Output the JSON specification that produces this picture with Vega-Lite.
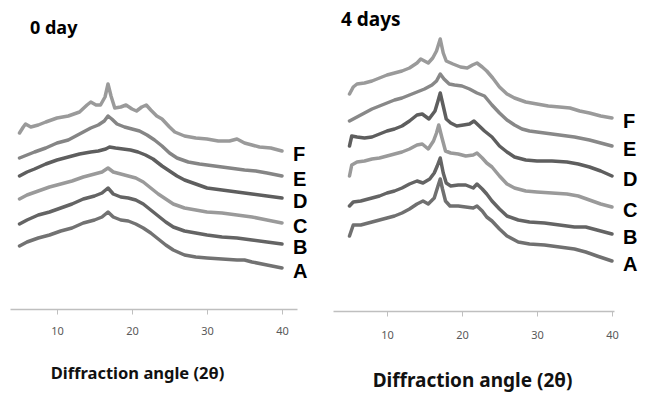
{
  "$schema": "https://vega.github.io/schema/vega-lite/v6.json",
  "padding": {"left": 10, "top": 11, "right": 0, "bottom": 12},
  "bounds": "flush",
  "spacing": 36,
  "config": {
    "view": {"stroke": null},
    "font": "Noto Sans"
  },
  "datasets": {
    "day0": [
      {"sample":"F","angle":5,"intensity":176},{"sample":"F","angle":5.5,"intensity":182},{"sample":"F","angle":5.8,"intensity":185},{"sample":"F","angle":6.5,"intensity":182},{"sample":"F","angle":7.5,"intensity":184},{"sample":"F","angle":8.5,"intensity":187},{"sample":"F","angle":10,"intensity":191},{"sample":"F","angle":11.5,"intensity":193},{"sample":"F","angle":13,"intensity":197},{"sample":"F","angle":14,"intensity":204},{"sample":"F","angle":14.5,"intensity":207},{"sample":"F","angle":15.2,"intensity":204},{"sample":"F","angle":15.8,"intensity":204},{"sample":"F","angle":16.4,"intensity":212},{"sample":"F","angle":16.8,"intensity":225},{"sample":"F","angle":17.2,"intensity":213},{"sample":"F","angle":17.7,"intensity":201},{"sample":"F","angle":18.5,"intensity":202},{"sample":"F","angle":19.2,"intensity":204},{"sample":"F","angle":20,"intensity":200},{"sample":"F","angle":20.6,"intensity":198},{"sample":"F","angle":21.3,"intensity":202},{"sample":"F","angle":21.9,"intensity":204},{"sample":"F","angle":22.5,"intensity":199},{"sample":"F","angle":23.3,"intensity":193},{"sample":"F","angle":24,"intensity":190},{"sample":"F","angle":25,"intensity":182},{"sample":"F","angle":25.7,"intensity":177},{"sample":"F","angle":27,"intensity":173},{"sample":"F","angle":28.5,"intensity":171},{"sample":"F","angle":30,"intensity":170},{"sample":"F","angle":31.5,"intensity":168},{"sample":"F","angle":33,"intensity":168},{"sample":"F","angle":34,"intensity":170},{"sample":"F","angle":35,"intensity":166},{"sample":"F","angle":36,"intensity":164},{"sample":"F","angle":37,"intensity":162},{"sample":"F","angle":38.5,"intensity":161},{"sample":"F","angle":40,"intensity":158},
      {"sample":"E","angle":5,"intensity":151},{"sample":"E","angle":6,"intensity":154},{"sample":"E","angle":7,"intensity":157},{"sample":"E","angle":8.5,"intensity":161},{"sample":"E","angle":10,"intensity":166},{"sample":"E","angle":11.5,"intensity":169},{"sample":"E","angle":13,"intensity":175},{"sample":"E","angle":14.5,"intensity":181},{"sample":"E","angle":15.5,"intensity":184},{"sample":"E","angle":16.3,"intensity":188},{"sample":"E","angle":16.8,"intensity":193},{"sample":"E","angle":17.3,"intensity":190},{"sample":"E","angle":18,"intensity":185},{"sample":"E","angle":19,"intensity":182},{"sample":"E","angle":20,"intensity":180},{"sample":"E","angle":21,"intensity":178},{"sample":"E","angle":22,"intensity":174},{"sample":"E","angle":23,"intensity":169},{"sample":"E","angle":24,"intensity":163},{"sample":"E","angle":25,"intensity":156},{"sample":"E","angle":26,"intensity":151},{"sample":"E","angle":27.5,"intensity":147},{"sample":"E","angle":29,"intensity":145},{"sample":"E","angle":31,"intensity":143},{"sample":"E","angle":33,"intensity":141},{"sample":"E","angle":35,"intensity":139},{"sample":"E","angle":36.5,"intensity":138},{"sample":"E","angle":38,"intensity":136},{"sample":"E","angle":40,"intensity":133},
      {"sample":"D","angle":5,"intensity":133},{"sample":"D","angle":6,"intensity":137},{"sample":"D","angle":7,"intensity":140},{"sample":"D","angle":8.5,"intensity":145},{"sample":"D","angle":10,"intensity":149},{"sample":"D","angle":11.5,"intensity":152},{"sample":"D","angle":13,"intensity":155},{"sample":"D","angle":14.5,"intensity":157},{"sample":"D","angle":15.5,"intensity":158},{"sample":"D","angle":16.5,"intensity":160},{"sample":"D","angle":17,"intensity":162},{"sample":"D","angle":17.8,"intensity":161},{"sample":"D","angle":18.8,"intensity":160},{"sample":"D","angle":19.8,"intensity":159},{"sample":"D","angle":20.8,"intensity":157},{"sample":"D","angle":21.8,"intensity":154},{"sample":"D","angle":22.8,"intensity":150},{"sample":"D","angle":24,"intensity":143},{"sample":"D","angle":25,"intensity":138},{"sample":"D","angle":26,"intensity":133},{"sample":"D","angle":27,"intensity":129},{"sample":"D","angle":28.5,"intensity":125},{"sample":"D","angle":30,"intensity":121},{"sample":"D","angle":32,"intensity":119},{"sample":"D","angle":34,"intensity":117},{"sample":"D","angle":36,"intensity":115},{"sample":"D","angle":38,"intensity":113},{"sample":"D","angle":40,"intensity":111},
      {"sample":"C","angle":5,"intensity":110},{"sample":"C","angle":6,"intensity":114},{"sample":"C","angle":7.5,"intensity":118},{"sample":"C","angle":9,"intensity":122},{"sample":"C","angle":10.5,"intensity":125},{"sample":"C","angle":12,"intensity":128},{"sample":"C","angle":13.5,"intensity":132},{"sample":"C","angle":15,"intensity":135},{"sample":"C","angle":16,"intensity":137},{"sample":"C","angle":16.8,"intensity":141},{"sample":"C","angle":17.5,"intensity":137},{"sample":"C","angle":18.5,"intensity":135},{"sample":"C","angle":19.5,"intensity":133},{"sample":"C","angle":20.5,"intensity":131},{"sample":"C","angle":21.5,"intensity":127},{"sample":"C","angle":22.5,"intensity":121},{"sample":"C","angle":23.5,"intensity":115},{"sample":"C","angle":24.5,"intensity":110},{"sample":"C","angle":25.5,"intensity":105},{"sample":"C","angle":27,"intensity":101},{"sample":"C","angle":28.5,"intensity":99},{"sample":"C","angle":30,"intensity":97},{"sample":"C","angle":32,"intensity":96},{"sample":"C","angle":34,"intensity":94},{"sample":"C","angle":36,"intensity":92},{"sample":"C","angle":38,"intensity":89},{"sample":"C","angle":40,"intensity":86},
      {"sample":"B","angle":5,"intensity":85},{"sample":"B","angle":6,"intensity":89},{"sample":"B","angle":7.5,"intensity":94},{"sample":"B","angle":9,"intensity":97},{"sample":"B","angle":10.5,"intensity":101},{"sample":"B","angle":12,"intensity":105},{"sample":"B","angle":13.5,"intensity":110},{"sample":"B","angle":15,"intensity":113},{"sample":"B","angle":16,"intensity":116},{"sample":"B","angle":16.8,"intensity":121},{"sample":"B","angle":17.5,"intensity":115},{"sample":"B","angle":18.5,"intensity":112},{"sample":"B","angle":19.5,"intensity":111},{"sample":"B","angle":20.5,"intensity":109},{"sample":"B","angle":21.5,"intensity":105},{"sample":"B","angle":22.5,"intensity":99},{"sample":"B","angle":23.5,"intensity":93},{"sample":"B","angle":24.5,"intensity":87},{"sample":"B","angle":25.5,"intensity":82},{"sample":"B","angle":27,"intensity":78},{"sample":"B","angle":28.5,"intensity":76},{"sample":"B","angle":30,"intensity":74},{"sample":"B","angle":32,"intensity":72},{"sample":"B","angle":34,"intensity":71},{"sample":"B","angle":36,"intensity":69},{"sample":"B","angle":38,"intensity":67},{"sample":"B","angle":40,"intensity":65},
      {"sample":"A","angle":5,"intensity":63},{"sample":"A","angle":6,"intensity":67},{"sample":"A","angle":7.5,"intensity":71},{"sample":"A","angle":9,"intensity":74},{"sample":"A","angle":10.5,"intensity":78},{"sample":"A","angle":12,"intensity":81},{"sample":"A","angle":13.5,"intensity":86},{"sample":"A","angle":15,"intensity":89},{"sample":"A","angle":16,"intensity":92},{"sample":"A","angle":16.8,"intensity":97},{"sample":"A","angle":17.5,"intensity":92},{"sample":"A","angle":18.5,"intensity":89},{"sample":"A","angle":19.5,"intensity":88},{"sample":"A","angle":20.5,"intensity":85},{"sample":"A","angle":21.5,"intensity":81},{"sample":"A","angle":22.5,"intensity":76},{"sample":"A","angle":23.5,"intensity":70},{"sample":"A","angle":24.5,"intensity":64},{"sample":"A","angle":25.5,"intensity":59},{"sample":"A","angle":27,"intensity":54},{"sample":"A","angle":28.5,"intensity":52},{"sample":"A","angle":30,"intensity":51},{"sample":"A","angle":32,"intensity":50},{"sample":"A","angle":34,"intensity":49},{"sample":"A","angle":35,"intensity":49},{"sample":"A","angle":36,"intensity":47},{"sample":"A","angle":38,"intensity":44},{"sample":"A","angle":40,"intensity":41}
    ],
    "day4": [
      {"sample":"F","angle":5,"intensity":217},{"sample":"F","angle":5.5,"intensity":224},{"sample":"F","angle":6,"intensity":227},{"sample":"F","angle":7,"intensity":228},{"sample":"F","angle":8,"intensity":230},{"sample":"F","angle":9,"intensity":233},{"sample":"F","angle":10,"intensity":236},{"sample":"F","angle":11,"intensity":238},{"sample":"F","angle":12,"intensity":240},{"sample":"F","angle":13,"intensity":243},{"sample":"F","angle":14,"intensity":248},{"sample":"F","angle":14.5,"intensity":252},{"sample":"F","angle":15.5,"intensity":248},{"sample":"F","angle":16.1,"intensity":253},{"sample":"F","angle":16.6,"intensity":260},{"sample":"F","angle":17.1,"intensity":272},{"sample":"F","angle":17.5,"intensity":258},{"sample":"F","angle":17.9,"intensity":250},{"sample":"F","angle":18.8,"intensity":247},{"sample":"F","angle":19.8,"intensity":244},{"sample":"F","angle":20.7,"intensity":243},{"sample":"F","angle":21.4,"intensity":246},{"sample":"F","angle":22,"intensity":248},{"sample":"F","angle":22.7,"intensity":244},{"sample":"F","angle":23.3,"intensity":240},{"sample":"F","angle":24.1,"intensity":233},{"sample":"F","angle":25,"intensity":224},{"sample":"F","angle":26,"intensity":217},{"sample":"F","angle":27,"intensity":213},{"sample":"F","angle":28.5,"intensity":209},{"sample":"F","angle":30,"intensity":207},{"sample":"F","angle":31.5,"intensity":205},{"sample":"F","angle":33,"intensity":204},{"sample":"F","angle":34.4,"intensity":203},{"sample":"F","angle":35.7,"intensity":200},{"sample":"F","angle":37,"intensity":198},{"sample":"F","angle":38.5,"intensity":195},{"sample":"F","angle":40,"intensity":193},
      {"sample":"E","angle":5,"intensity":190},{"sample":"E","angle":6,"intensity":194},{"sample":"E","angle":7,"intensity":198},{"sample":"E","angle":8,"intensity":202},{"sample":"E","angle":9,"intensity":205},{"sample":"E","angle":10,"intensity":208},{"sample":"E","angle":11,"intensity":211},{"sample":"E","angle":12,"intensity":213},{"sample":"E","angle":13,"intensity":216},{"sample":"E","angle":14,"intensity":219},{"sample":"E","angle":15,"intensity":222},{"sample":"E","angle":16,"intensity":226},{"sample":"E","angle":16.6,"intensity":230},{"sample":"E","angle":17.1,"intensity":237},{"sample":"E","angle":17.6,"intensity":232},{"sample":"E","angle":18.3,"intensity":227},{"sample":"E","angle":19,"intensity":226},{"sample":"E","angle":20,"intensity":225},{"sample":"E","angle":21,"intensity":222},{"sample":"E","angle":22,"intensity":218},{"sample":"E","angle":23,"intensity":215},{"sample":"E","angle":24,"intensity":206},{"sample":"E","angle":25,"intensity":198},{"sample":"E","angle":26,"intensity":191},{"sample":"E","angle":27,"intensity":186},{"sample":"E","angle":28,"intensity":182},{"sample":"E","angle":29,"intensity":180},{"sample":"E","angle":31,"intensity":178},{"sample":"E","angle":33,"intensity":176},{"sample":"E","angle":35,"intensity":174},{"sample":"E","angle":37,"intensity":171},{"sample":"E","angle":38.5,"intensity":168},{"sample":"E","angle":40,"intensity":165},
      {"sample":"D","angle":5,"intensity":165},{"sample":"D","angle":5.3,"intensity":175},{"sample":"D","angle":6,"intensity":174},{"sample":"D","angle":7,"intensity":173},{"sample":"D","angle":8,"intensity":174},{"sample":"D","angle":9,"intensity":177},{"sample":"D","angle":10,"intensity":180},{"sample":"D","angle":11,"intensity":182},{"sample":"D","angle":12,"intensity":185},{"sample":"D","angle":13,"intensity":190},{"sample":"D","angle":14,"intensity":196},{"sample":"D","angle":14.7,"intensity":197},{"sample":"D","angle":15.6,"intensity":192},{"sample":"D","angle":16.4,"intensity":200},{"sample":"D","angle":16.8,"intensity":210},{"sample":"D","angle":17.1,"intensity":218},{"sample":"D","angle":17.5,"intensity":205},{"sample":"D","angle":17.9,"intensity":192},{"sample":"D","angle":18.5,"intensity":188},{"sample":"D","angle":19.3,"intensity":185},{"sample":"D","angle":20.2,"intensity":186},{"sample":"D","angle":21,"intensity":187},{"sample":"D","angle":21.6,"intensity":190},{"sample":"D","angle":22.3,"intensity":185},{"sample":"D","angle":23,"intensity":180},{"sample":"D","angle":24,"intensity":174},{"sample":"D","angle":25,"intensity":165},{"sample":"D","angle":26,"intensity":159},{"sample":"D","angle":27,"intensity":154},{"sample":"D","angle":28.5,"intensity":151},{"sample":"D","angle":30,"intensity":150},{"sample":"D","angle":32,"intensity":150},{"sample":"D","angle":34,"intensity":149},{"sample":"D","angle":35.5,"intensity":147},{"sample":"D","angle":37,"intensity":144},{"sample":"D","angle":38.5,"intensity":140},{"sample":"D","angle":40,"intensity":135},
      {"sample":"C","angle":5,"intensity":135},{"sample":"C","angle":5.3,"intensity":146},{"sample":"C","angle":6,"intensity":149},{"sample":"C","angle":7,"intensity":150},{"sample":"C","angle":8,"intensity":152},{"sample":"C","angle":9,"intensity":153},{"sample":"C","angle":10,"intensity":155},{"sample":"C","angle":11,"intensity":157},{"sample":"C","angle":12,"intensity":159},{"sample":"C","angle":13,"intensity":162},{"sample":"C","angle":14,"intensity":166},{"sample":"C","angle":14.7,"intensity":167},{"sample":"C","angle":15.5,"intensity":162},{"sample":"C","angle":16.2,"intensity":170},{"sample":"C","angle":16.6,"intensity":178},{"sample":"C","angle":16.9,"intensity":186},{"sample":"C","angle":17.3,"intensity":174},{"sample":"C","angle":17.8,"intensity":160},{"sample":"C","angle":18.5,"intensity":158},{"sample":"C","angle":19.5,"intensity":157},{"sample":"C","angle":20.5,"intensity":155},{"sample":"C","angle":21.5,"intensity":156},{"sample":"C","angle":22,"intensity":158},{"sample":"C","angle":22.7,"intensity":153},{"sample":"C","angle":23.3,"intensity":148},{"sample":"C","angle":24,"intensity":144},{"sample":"C","angle":25,"intensity":135},{"sample":"C","angle":26,"intensity":127},{"sample":"C","angle":27,"intensity":123},{"sample":"C","angle":28.5,"intensity":120},{"sample":"C","angle":30,"intensity":119},{"sample":"C","angle":32,"intensity":118},{"sample":"C","angle":34,"intensity":117},{"sample":"C","angle":35.5,"intensity":115},{"sample":"C","angle":37,"intensity":111},{"sample":"C","angle":38.5,"intensity":107},{"sample":"C","angle":40,"intensity":104},
      {"sample":"B","angle":5,"intensity":105},{"sample":"B","angle":5.5,"intensity":109},{"sample":"B","angle":6.5,"intensity":110},{"sample":"B","angle":7.5,"intensity":112},{"sample":"B","angle":9,"intensity":115},{"sample":"B","angle":10,"intensity":118},{"sample":"B","angle":11,"intensity":120},{"sample":"B","angle":12,"intensity":123},{"sample":"B","angle":13,"intensity":127},{"sample":"B","angle":14,"intensity":130},{"sample":"B","angle":14.8,"intensity":128},{"sample":"B","angle":15.7,"intensity":132},{"sample":"B","angle":16.3,"intensity":138},{"sample":"B","angle":16.7,"intensity":145},{"sample":"B","angle":17.1,"intensity":153},{"sample":"B","angle":17.5,"intensity":138},{"sample":"B","angle":17.9,"intensity":128},{"sample":"B","angle":18.5,"intensity":125},{"sample":"B","angle":19.5,"intensity":126},{"sample":"B","angle":20.5,"intensity":126},{"sample":"B","angle":21.5,"intensity":123},{"sample":"B","angle":22,"intensity":127},{"sample":"B","angle":22.7,"intensity":122},{"sample":"B","angle":23.3,"intensity":117},{"sample":"B","angle":24,"intensity":110},{"sample":"B","angle":25,"intensity":102},{"sample":"B","angle":26,"intensity":95},{"sample":"B","angle":27.5,"intensity":91},{"sample":"B","angle":29,"intensity":89},{"sample":"B","angle":31,"intensity":88},{"sample":"B","angle":33,"intensity":86},{"sample":"B","angle":35,"intensity":84},{"sample":"B","angle":36.5,"intensity":84},{"sample":"B","angle":38,"intensity":81},{"sample":"B","angle":40,"intensity":77},
      {"sample":"A","angle":5,"intensity":75},{"sample":"A","angle":5.5,"intensity":86},{"sample":"A","angle":6.5,"intensity":86},{"sample":"A","angle":7.5,"intensity":88},{"sample":"A","angle":9,"intensity":91},{"sample":"A","angle":10,"intensity":93},{"sample":"A","angle":11,"intensity":95},{"sample":"A","angle":12,"intensity":98},{"sample":"A","angle":13,"intensity":102},{"sample":"A","angle":14,"intensity":107},{"sample":"A","angle":14.8,"intensity":110},{"sample":"A","angle":15.5,"intensity":107},{"sample":"A","angle":16.3,"intensity":113},{"sample":"A","angle":16.8,"intensity":125},{"sample":"A","angle":17.1,"intensity":132},{"sample":"A","angle":17.4,"intensity":122},{"sample":"A","angle":17.8,"intensity":110},{"sample":"A","angle":18.4,"intensity":105},{"sample":"A","angle":19.5,"intensity":105},{"sample":"A","angle":20.5,"intensity":104},{"sample":"A","angle":21.5,"intensity":103},{"sample":"A","angle":22,"intensity":105},{"sample":"A","angle":22.7,"intensity":100},{"sample":"A","angle":23.3,"intensity":94},{"sample":"A","angle":24,"intensity":90},{"sample":"A","angle":25,"intensity":82},{"sample":"A","angle":26,"intensity":75},{"sample":"A","angle":27.5,"intensity":69},{"sample":"A","angle":29,"intensity":67},{"sample":"A","angle":31,"intensity":66},{"sample":"A","angle":33,"intensity":64},{"sample":"A","angle":35,"intensity":62},{"sample":"A","angle":36.5,"intensity":59},{"sample":"A","angle":38,"intensity":55},{"sample":"A","angle":40,"intensity":50}
    ]
  },
  "hconcat": [
    {
      "width": 287,
      "height": 268,
      "title": {"text": "0 day", "anchor": "start", "frame": "group", "orient": "top", "offset": 3, "dx": 20, "fontSize": 18, "fontWeight": "bold", "font": "Noto Sans", "color": "#000000"},
      "data": {"name": "day0"},
      "encoding": {
        "x": {"field": "angle", "type": "quantitative", "scale": {"domain": [3.73, 42.0], "nice": false, "zero": false},
          "axis": {"values": [10, 20, 30, 40], "grid": false, "title": "Diffraction angle (2θ)", "titleX": 127, "titleAlign": "center", "domainColor": "#bfbfbf", "domainWidth": 1.5, "tickColor": "#bfbfbf", "tickSize": 5, "labelFontSize": 11, "labelColor": "#595959", "labelPadding": 11, "titleFontSize": 16.5, "titleFontWeight": "bold", "titleColor": "#111111", "titlePadding": 29, "titleFont": "Noto Sans", "labelFont": "Noto Sans"}},
        "y": {"field": "intensity", "type": "quantitative", "scale": {"domain": [0, 268], "nice": false, "zero": false}, "axis": null}
      },
      "layer": [
        {
          "mark": {"type": "line", "strokeWidth": 3.5, "strokeJoin": "round", "strokeCap": "round"},
          "encoding": {
            "color": {"field": "sample", "type": "nominal", "legend": null,
              "scale": {"domain": ["A","B","C","D","E","F"], "range": ["#727272", "#646464", "#9a9a9a", "#5e5e5e", "#858585", "#9a9a9a"]}}
          }
        },
        {
          "transform": [{"filter": "datum.angle == 40"}],
          "mark": {"type": "text", "align": "left", "baseline": "middle", "dx": 11, "dy": 4, "fontSize": 20, "fontWeight": "bold", "font": "Liberation Sans", "color": "#000000"},
          "encoding": {"text": {"field": "sample", "type": "nominal"}}
        }
      ]
    },
    {
      "width": 281,
      "height": 270,
      "title": {"text": "4 days", "anchor": "start", "frame": "group", "orient": "top", "offset": 7, "dx": 8, "fontSize": 19, "fontWeight": "bold", "font": "Noto Sans", "color": "#000000"},
      "data": {"name": "day4"},
      "encoding": {
        "x": {"field": "angle", "type": "quantitative", "scale": {"domain": [2.8, 40.27], "nice": false, "zero": false},
          "axis": {"values": [10, 20, 30, 40], "grid": false, "title": "Diffraction angle (2θ)", "titleX": 139, "titleAlign": "center", "domainColor": "#bfbfbf", "domainWidth": 1.5, "tickColor": "#bfbfbf", "tickSize": 5, "labelFontSize": 11, "labelColor": "#595959", "labelPadding": 13, "titleFontSize": 19, "titleFontWeight": "bold", "titleColor": "#111111", "titlePadding": 31, "titleFont": "Noto Sans", "labelFont": "Noto Sans"}},
        "y": {"field": "intensity", "type": "quantitative", "scale": {"domain": [0, 270], "nice": false, "zero": false}, "axis": null}
      },
      "layer": [
        {
          "mark": {"type": "line", "strokeWidth": 3.5, "strokeJoin": "round", "strokeCap": "round"},
          "encoding": {
            "color": {"field": "sample", "type": "nominal", "legend": null,
              "scale": {"domain": ["A","B","C","D","E","F"], "range": ["#707070", "#646464", "#9a9a9a", "#5e5e5e", "#888888", "#9a9a9a"]}}
          }
        },
        {
          "transform": [{"filter": "datum.angle == 40"}],
          "mark": {"type": "text", "align": "left", "baseline": "middle", "dx": 11, "dy": 4, "fontSize": 20, "fontWeight": "bold", "font": "Liberation Sans", "color": "#000000"},
          "encoding": {"text": {"field": "sample", "type": "nominal"}}
        }
      ]
    }
  ],
  "resolve": {"scale": {"color": "independent"}}
}
